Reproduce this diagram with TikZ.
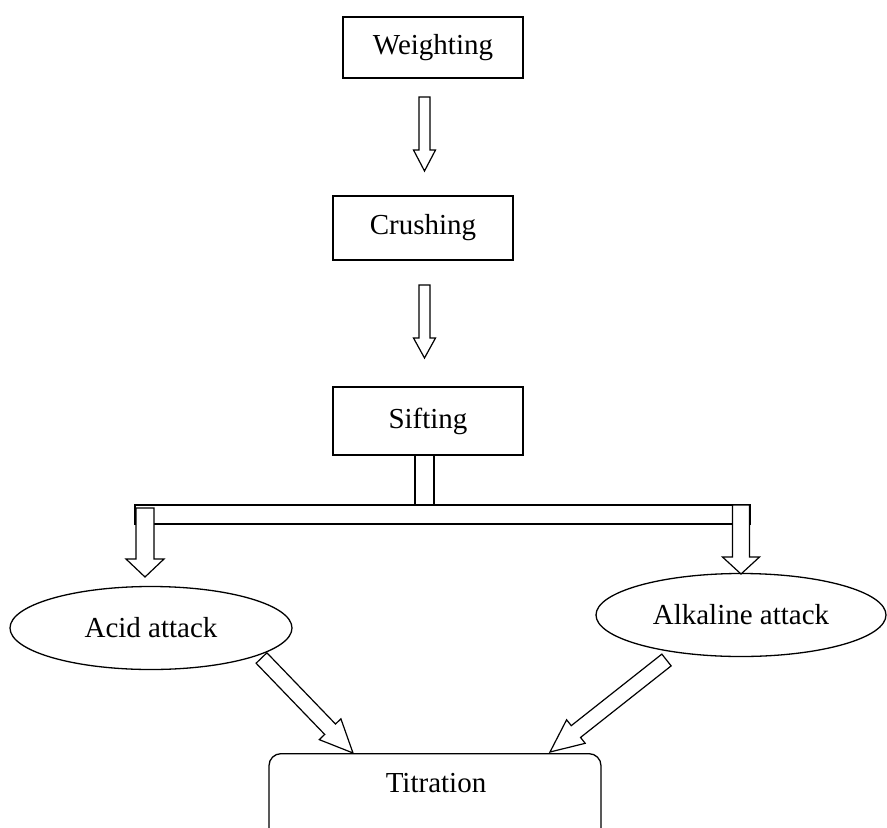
\documentclass[tikz,border=0pt]{standalone}
\usepackage{fontspec}
\setmainfont{Liberation Serif}
\usetikzlibrary{calc,shapes.geometric}
\tikzset{
  every picture/.style={x=1pt,y=-1pt},
  txt/.style={font=\fontsize{29}{35}\selectfont, inner sep=0pt},
  boxnode/.style={draw, line width=1.3pt, rectangle, inner sep=0pt, font=\fontsize{29}{35}\selectfont},
  ellnode/.style={draw, line width=1.3pt, ellipse, inner sep=0pt, font=\fontsize{29}{35}\selectfont},
  blk/.style={draw, fill=white, line width=1.2pt, line join=miter},
}
\newcommand\blkarrow[5]{%
  \coordinate (tmpneck) at ($(#2)!#5!(#1)$);
  \draw[blk] ($(#1)!#3!90:(#2)$) -- ($(tmpneck)!#3!90:(#2)$) -- ($(tmpneck)!#4!90:(#2)$)
    -- (#2) -- ($(tmpneck)!#4!-90:(#2)$) -- ($(tmpneck)!#3!-90:(#2)$) -- ($(#1)!#3!-90:(#2)$) -- cycle;}
\begin{document}
\begin{tikzpicture}
\useasboundingbox (0,0) rectangle (887,828);
\clip (0,0) rectangle (887,828);
% nodes
\node[boxnode, minimum width=180pt, minimum height=61pt] (w) at (433,47.5) {Weighting};
\node[boxnode, minimum width=180pt, minimum height=64pt] (c) at (423,228) {Crushing};
\node[boxnode, minimum width=190pt, minimum height=68pt] (s) at (428,421) {Sifting};
\node[ellnode, minimum width=282pt, minimum height=83pt] (acid) at (151,628) {Acid attack};
\node[ellnode, minimum width=290pt, minimum height=83pt] (alk) at (741,615) {Alkaline attack};
\node[draw, line width=1.3pt, rounded corners=12pt, minimum width=332pt, minimum height=110pt, anchor=north] (tbox) at (435,753) {};
\node[txt] (ttext) at (436,783) {Titration};
% connector end points
\coordinate (a1s) at (424.5,97);  \coordinate (a1e) at (424.5,171);
\coordinate (a2s) at (424.5,285); \coordinate (a2e) at (424.5,358);
\coordinate (bl) at (135,505); \coordinate (br) at (750,524);
\coordinate (stubl) at (415,455); \coordinate (stubr) at (434,505);
\coordinate (la) at (145,508); \coordinate (lae) at (145,577);
\coordinate (ra) at (741,505); \coordinate (rae) at (741,574);
\coordinate (da) at (261.5,658); \coordinate (dae) at (353,753);
\coordinate (db) at (666.5,660); \coordinate (dbe) at (550,752);
% vertical arrows
\blkarrow{a1s}{a1e}{5.5pt}{11pt}{21pt}
\blkarrow{a2s}{a2e}{5.5pt}{11pt}{20pt}
% split connector
\draw[blk] (stubl) rectangle (stubr);
\draw[blk] (bl) rectangle (br);
\blkarrow{la}{lae}{9pt}{19pt}{18pt}
\blkarrow{ra}{rae}{8.5pt}{18.5pt}{17pt}
% diagonal arrows
\blkarrow{da}{dae}{7.5pt}{15pt}{33pt}
\blkarrow{db}{dbe}{7.5pt}{15pt}{33pt}
\end{tikzpicture}
\end{document}
